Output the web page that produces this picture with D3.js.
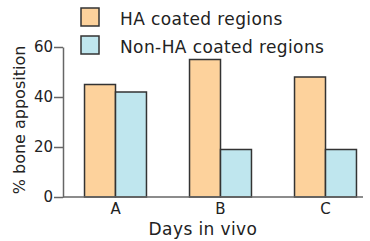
<!DOCTYPE html>
<html>
<head>
<meta charset="utf-8">
<script src="https://cdn.jsdelivr.net/npm/d3@7"></script>
<style>
  body { margin: 0; background: #fff; }
  text { font-family: "DejaVu Sans", sans-serif; fill: #222; }
</style>
</head>
<body>
<div class="container"></div>
<script>
(function(){

    var categories = ["A", "B", "C"];
    var seriesNames = ["HA coated regions", "Non-HA coated regions"];
    var haValues = [45, 55, 48];
    var nonHaValues = [42, 19, 19];
    var yTicks = [0, 20, 40, 60];
    var colors = ["#fdd29c", "#bfe6ee"];

    var svg = d3.select(".container").append("svg")
        .attr("width", 370)
        .attr("height", 241);

    var x = d3.scaleBand()
        .domain(categories)
        .range([63, 378])
        .paddingInner(0.41)
        .paddingOuter(0.205);

    var x1 = d3.scaleBand()
        .domain(seriesNames)
        .range([0, x.bandwidth()]);

    var y = d3.scaleLinear()
        .domain([0, 60])
        .range([197, 47]);

    var rows = categories.map(function(c, i) {
        return { cat: c, vals: [haValues[i], nonHaValues[i]] };
    });

    // bars
    var groups = svg.selectAll("g.grp")
        .data(rows)
        .enter().append("g")
        .attr("class", "grp")
        .attr("transform", function(d) { return "translate(" + x(d.cat) + ",0)"; });

    groups.selectAll("rect")
        .data(function(d) { return d.vals.map(function(v, i) { return { s: seriesNames[i], v: v, i: i }; }); })
        .enter().append("rect")
        .attr("x", function(d) { return x1(d.s); })
        .attr("y", function(d) { return y(d.v); })
        .attr("width", x1.bandwidth())
        .attr("height", function(d) { return y(0) - y(d.v); })
        .style("fill", function(d) { return colors[d.i]; })
        .style("stroke", "#333")
        .style("stroke-width", 1.5);

    // y axis
    var yAxis = svg.append("g")
        .attr("transform", "translate(63,0)")
        .call(d3.axisLeft(y).tickValues(yTicks).tickSize(9).tickSizeOuter(0));
    yAxis.select(".domain").style("stroke", "#666").style("stroke-width", 1.5);
    yAxis.selectAll(".tick line").style("stroke", "#666").style("stroke-width", 1.5);
    yAxis.selectAll("text").style("font-size", "15px").attr("x", -10).style("fill", "#222");

    // x axis
    var xAxis = svg.append("g")
        .attr("transform", "translate(0,197)")
        .call(d3.axisBottom(x).tickSize(0).tickSizeOuter(0).tickPadding(6));
    xAxis.select(".domain").attr("d", "M63,0H363").style("stroke", "#666").style("stroke-width", 1.5);
    xAxis.selectAll("text").style("font-size", "15px").style("fill", "#222");

    svg.append("text")
        .attr("x", 203)
        .attr("y", 235)
        .attr("text-anchor", "middle")
        .style("font-size", "17px")
        .style("letter-spacing", "0.4px")
        .text("Days in vivo");

    svg.append("text")
        .attr("transform", "translate(25,120) rotate(-90)")
        .attr("text-anchor", "middle")
        .style("font-size", "16px")
        .text("% bone apposition");

    // legend
    var legend = svg.selectAll("g.leg")
        .data(seriesNames)
        .enter().append("g")
        .attr("class", "leg")
        .attr("transform", function(d, i) { return "translate(81," + (8 + i * 28) + ")"; });

    legend.append("rect")
        .attr("width", 18)
        .attr("height", 18)
        .style("fill", function(d, i) { return colors[i]; })
        .style("stroke", "#333")
        .style("stroke-width", 1.5);

    legend.append("text")
        .attr("x", 39)
        .attr("y", 17)
        .style("font-size", "17px")
        .style("letter-spacing", "0.4px")
        .text(function(d) { return d; });

})();
</script>
</body>
</html>
